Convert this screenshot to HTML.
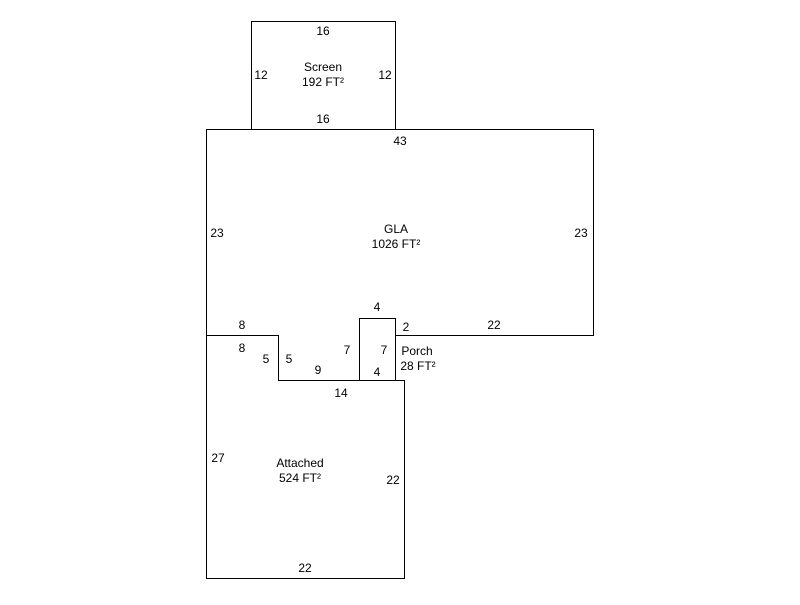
<!DOCTYPE html>
<html><head><style>
body{margin:0;background:#fff}
svg text{font-family:"Liberation Sans",Arial,sans-serif;font-size:12px;fill:#000;text-anchor:middle}
</style></head><body>
<svg width="800" height="600" xmlns="http://www.w3.org/2000/svg">
<g fill="none" stroke="#000" stroke-width="1" shape-rendering="crispEdges">
<rect x="251.5" y="21.5" width="144" height="108"/>
<polyline points="206.5,335.5 206.5,129.5 593.5,129.5 593.5,335.5 395.5,335.5"/>
<rect x="359.5" y="318.5" width="36" height="62"/>
<polyline points="206.5,335.5 278.5,335.5 278.5,380.5 404.5,380.5 404.5,578.5 206.5,578.5 206.5,335.5"/>
</g>
<text x="323" y="35">16</text>
<text x="261" y="79">12</text>
<text x="385" y="79">12</text>
<text x="323" y="71">Screen</text>
<text x="323" y="86">192 FT²</text>
<text x="323" y="123">16</text>
<text x="400" y="145">43</text>
<text x="217" y="237">23</text>
<text x="581" y="237">23</text>
<text x="396" y="233">GLA</text>
<text x="396" y="248">1026 FT²</text>
<text x="377" y="311">4</text>
<text x="406" y="331">2</text>
<text x="494" y="329">22</text>
<text x="242" y="329">8</text>
<text x="242" y="352">8</text>
<text x="266" y="363">5</text>
<text x="289" y="363">5</text>
<text x="347" y="354">7</text>
<text x="384" y="354">7</text>
<text x="318" y="374">9</text>
<text x="377" y="376">4</text>
<text x="417" y="355">Porch</text>
<text x="418" y="370">28 FT²</text>
<text x="341" y="397">14</text>
<text x="218" y="462">27</text>
<text x="300" y="467">Attached</text>
<text x="300" y="482">524 FT²</text>
<text x="393" y="484">22</text>
<text x="305" y="572">22</text>
</svg>
</body></html>
